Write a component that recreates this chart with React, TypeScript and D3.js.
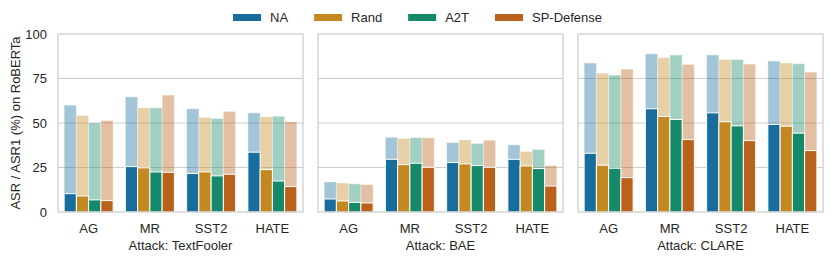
import React from "react";
import * as d3 from "d3";

const categories = ["AG", "MR", "SST2", "HATE"];
const attacks = ["TextFooler", "BAE", "CLARE"];
const methods = ["NA", "Rand", "A2T", "SP-Defense"];
const colors = ["#176d9c", "#c48820", "#158a6a", "#ba611b"];
const yTicks = [0, 25, 50, 75, 100];

// ASR (light bars) per attack -> per method -> per category
const asrTextFooler = [
  [60.0, 64.7, 58.0, 55.7],
  [54.2, 58.5, 53.1, 53.5],
  [50.1, 58.5, 52.5, 53.8],
  [51.4, 65.7, 56.5, 50.7],
];
const asr1TextFooler = [
  [10.3, 25.5, 21.6, 33.6],
  [9.0, 24.8, 22.5, 23.8],
  [6.8, 22.5, 20.3, 17.4],
  [6.4, 22.3, 21.2, 14.3],
];
const asrBAE = [
  [16.9, 42.0, 39.0, 37.7],
  [16.3, 41.3, 40.5, 34.0],
  [15.8, 41.8, 38.5, 35.1],
  [15.4, 41.7, 40.3, 26.1],
];
const asr1BAE = [
  [7.3, 29.6, 27.8, 29.6],
  [6.2, 26.6, 27.0, 25.9],
  [5.4, 27.4, 26.1, 24.4],
  [5.1, 25.1, 25.1, 14.6],
];
const asrCLARE = [
  [83.7, 88.9, 88.2, 84.8],
  [78.0, 86.7, 85.7, 83.7],
  [76.9, 88.2, 85.6, 83.3],
  [80.3, 82.9, 83.1, 78.6],
];
const asr1CLARE = [
  [33.0, 58.0, 55.7, 49.2],
  [26.3, 53.7, 50.7, 48.2],
  [24.6, 52.0, 48.4, 44.3],
  [19.3, 40.7, 40.1, 34.5],
];

const asrAll = [asrTextFooler, asrBAE, asrCLARE];
const asr1All = [asr1TextFooler, asr1BAE, asr1CLARE];

const W = 831;
const H = 261;
const FONT = "'Liberation Sans', Arial, Helvetica, sans-serif";
const top = 34;
const bottom = 212;
const panelLeft = 58;
const panelW = 245;
const panelGap = 15;
const grid = "#cccccc";
const textColor = "#262626";

function textWidth(s: string): number {
  if (typeof document === "undefined") return s.length * 7;
  const c = document.createElement("canvas");
  const ctx = c.getContext("2d");
  if (!ctx) return s.length * 7;
  ctx.font = `13px ${FONT}`;
  return ctx.measureText(s).width;
}

export default function App() {
  const y = d3.scaleLinear().domain([0, 100]).range([bottom, top]);

  // legend layout
  const patchW = 28;
  const patchH = 7;
  const legendItems: { x: number; label: string; color: string }[] = [];
  {
    let x = 233;
    methods.forEach((m, i) => {
      legendItems.push({ x, label: m, color: colors[i] });
      x += patchW + 9 + textWidth(m) + 26;
    });
  }

  return (
    <svg width={W} height={H} style={{ display: "block", position: "absolute", left: 0, top: 0 }} fontFamily={FONT}>
      <rect x={0} y={0} width={W} height={H} fill="#ffffff" />
      {/* legend */}
      {legendItems.map((it) => (
        <g key={it.label}>
          <rect x={it.x} y={17.5 - patchH / 2} width={patchW} height={patchH} fill={it.color} />
          <text x={it.x + patchW + 9} y={17.5} dy="0.35em" fontSize={13} fill={textColor}>
            {it.label}
          </text>
        </g>
      ))}
      {/* y label */}
      <text
        transform={`translate(15,${(top + bottom) / 2}) rotate(-90)`}
        textAnchor="middle"
        dy="0.35em"
        fontSize={13}
        fill={textColor}
      >
        ASR / ASR1 (%) on RoBERTa
      </text>
      {/* y ticks */}
      {yTicks.map((t) => (
        <text key={t} x={47} y={y(t)} dy="0.35em" textAnchor="end" fontSize={13} fill={textColor}>
          {t}
        </text>
      ))}
      {attacks.map((att, ai) => {
        const x0 = panelLeft + ai * (panelW + panelGap);
        const xBand = d3
          .scaleBand<string>()
          .domain(categories)
          .range([x0, x0 + panelW])
          .paddingInner(0)
          .paddingOuter(0);
        const inner = d3
          .scaleBand<string>()
          .domain(methods)
          .range([0, xBand.bandwidth() * 0.8]);
        const off = xBand.bandwidth() * 0.1;
        return (
          <g key={att}>
            {/* grid */}
            {yTicks
              .filter((t) => t > 0 && t < 100)
              .map((t) => (
                <line key={t} x1={x0} x2={x0 + panelW} y1={y(t)} y2={y(t)} stroke={grid} strokeWidth={1} />
              ))}
            {/* light bars */}
            {methods.map((m, mi) =>
              categories.map((c, ci) => {
                const v = asrAll[ai][mi][ci];
                return (
                  <rect
                    key={`l-${m}-${c}`}
                    x={(xBand(c) as number) + off + (inner(m) as number)}
                    y={y(v)}
                    width={inner.bandwidth()}
                    height={y(0) - y(v)}
                    fill={colors[mi]}
                    fillOpacity={0.4}
                    stroke="#ffffff"
                    strokeOpacity={0.4}
                    strokeWidth={1}
                  />
                );
              })
            )}
            {/* dark bars */}
            {methods.map((m, mi) =>
              categories.map((c, ci) => {
                const v = asr1All[ai][mi][ci];
                return (
                  <rect
                    key={`d-${m}-${c}`}
                    x={(xBand(c) as number) + off + (inner(m) as number)}
                    y={y(v)}
                    width={inner.bandwidth()}
                    height={y(0) - y(v)}
                    fill={colors[mi]}
                    stroke="#ffffff"
                    strokeWidth={1}
                  />
                );
              })
            )}
            {/* frame */}
            <rect x={x0} y={top} width={panelW} height={bottom - top} fill="none" stroke={grid} strokeWidth={1.25} />
            {/* x tick labels */}
            {categories.map((c) => (
              <text
                key={c}
                x={(xBand(c) as number) + xBand.bandwidth() / 2}
                y={233}
                textAnchor="middle"
                fontSize={13}
                fill={textColor}
              >
                {c}
              </text>
            ))}
            <text x={x0 + panelW / 2} y={250} textAnchor="middle" fontSize={13} fill={textColor}>
              {`Attack: ${att}`}
            </text>
          </g>
        );
      })}
    </svg>
  );
}
